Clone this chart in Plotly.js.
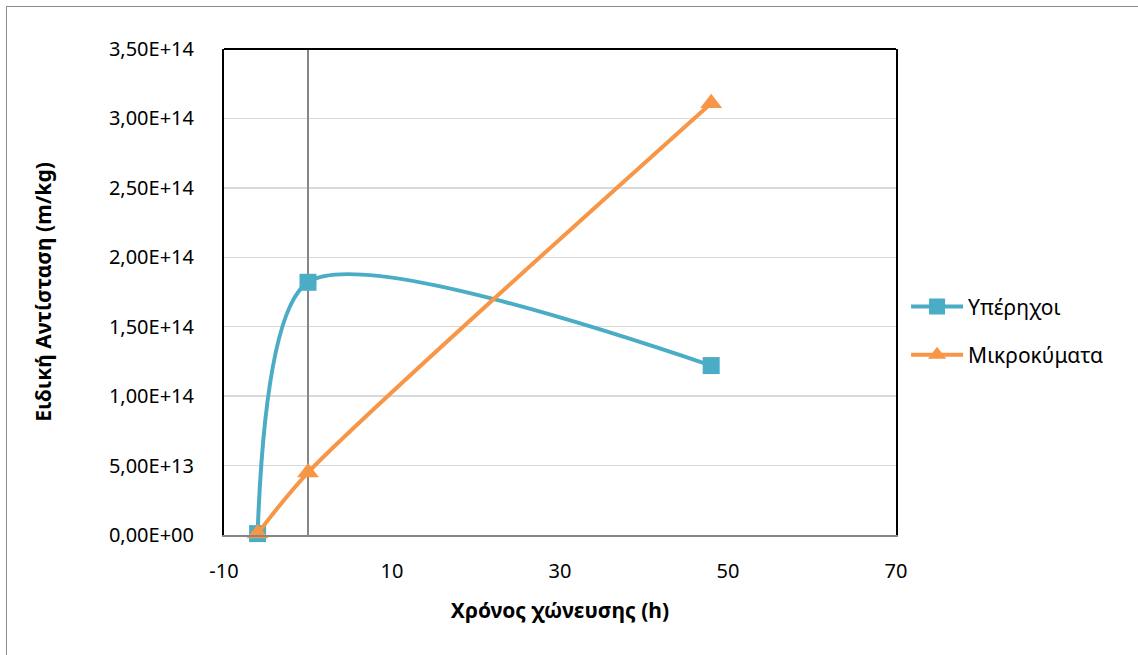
<!DOCTYPE html>
<html>
<head>
<meta charset="utf-8">
<script src="https://cdn.plot.ly/plotly-3.0.1.min.js"></script>
<style>
html,body{margin:0;padding:0;background:#fff;}
#wrap{position:relative;width:1138px;height:655px;overflow:hidden;}
#chart{position:absolute;left:0;top:0;width:1138px;height:655px;}
#frame{position:absolute;left:6px;top:6px;width:1200px;height:800px;border:1.5px solid #8c8c8c;pointer-events:none;}
</style>
</head>
<body>
<div id="wrap"><div id="chart"></div><div id="frame"></div></div>
<script>
const hours = [-6, 0, 48];
const ultrasound = [1e12, 1.82e14, 1.22e14];
const microwave = [1e12, 4.5e13, 3.11e14];
const seriesNames = ['Υπέρηχοι', 'Μικροκύματα'];
const yTickVals = [0, 5e13, 1e14, 1.5e14, 2e14, 2.5e14, 3e14, 3.5e14];
const yTickText = ['0,00E+00','5,00E+13','1,00E+14','1,50E+14','2,00E+14','2,50E+14','3,00E+14','3,50E+14'];
const xTickVals = [-10, 10, 30, 50, 70];
const xTitle = 'Χρόνος χώνευσης (h)';
const yTitle = 'Ειδική Αντίσταση (m/kg)';

const font = 'Noto Sans, Open Sans, sans-serif';
const traces = [
  {x: hours, y: ultrasound, name: seriesNames[0], type: 'scatter', mode: 'lines+markers',
   line: {color: '#4bacc6', width: 4, shape: 'spline', smoothing: 0.75},
   marker: {symbol: 'square', size: 17, color: '#4bacc6'}, legendgroup: 'a', cliponaxis: false},
  {x: hours, y: microwave, name: seriesNames[1], type: 'scatter', mode: 'lines+markers',
   line: {color: '#f79646', width: 4, shape: 'spline', smoothing: 0.75},
   marker: {symbol: 'triangle-up', size: 19, color: '#f79646'}, legendgroup: 'b', cliponaxis: false}
];
const layout = {
  width: 1138, height: 655,
  margin: {l: 224, r: 242, t: 49, b: 120},
  paper_bgcolor: '#fff', plot_bgcolor: '#fff',
  font: {family: font, size: 20, color: '#000'},
  showlegend: true,
  legend: {x: 1.015, y: 0.42, xanchor: 'left', yanchor: 'middle', traceorder: 'grouped', tracegroupgap: 18,
           itemwidth: 52, font: {family: font, size: 21, color: '#000'}},
  xaxis: {range: [-10, 70], tickvals: xTickVals, ticktext: xTickVals.map(String), showgrid: false,
          tickfont: {family: font, size: 20, color: '#000'}, ticklabelstandoff: 17,
          zeroline: true, zerolinecolor: '#868686', zerolinewidth: 1.5,
          showline: true, linecolor: '#868686', linewidth: 2, ticks: '', ticklen: 0,
          title: {text: '<b>' + xTitle + '</b>', standoff: 20, font: {family: font, size: 21}}},
  yaxis: {range: [0, 3.5e14], tickvals: yTickVals, ticktext: yTickText, showgrid: true, gridcolor: '#d9d9d9', gridwidth: 1.5,
          tickfont: {family: font, size: 20, color: '#000'}, ticklabelstandoff: 24,
          zeroline: false, showline: true, linecolor: '#000', linewidth: 2, mirror: true, ticks: '',
          title: {text: '<b>' + yTitle + '</b>', standoff: 52, font: {family: font, size: 21}}},
  shapes: [{type: 'line', xref: 'paper', yref: 'paper', x0: 0, x1: 1, y0: 1, y1: 1, line: {color: '#000', width: 2}}]
};
Plotly.newPlot('chart', traces, layout, {displayModeBar: false, staticPlot: true});
</script>
</body>
</html>
